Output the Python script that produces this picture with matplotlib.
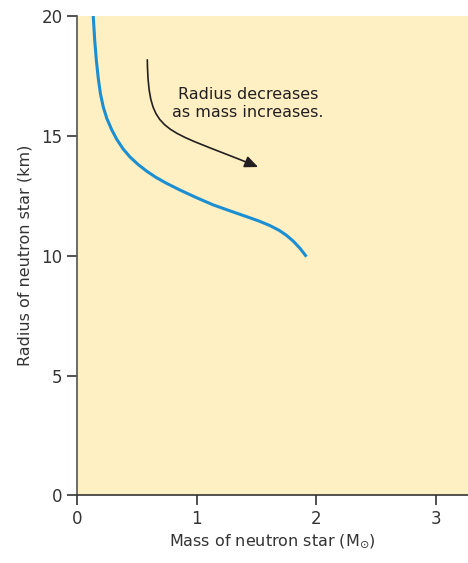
import numpy as np
import matplotlib.pyplot as plt
from matplotlib.path import Path
from matplotlib.patches import FancyArrowPatch

# mass (solar masses) vs radius (km)
mass = [0.136, 0.148, 0.162, 0.178, 0.196, 0.22, 0.25, 0.29, 0.332, 0.385, 0.443,
        0.51, 0.582, 0.66, 0.749, 0.861, 1.0, 1.139, 1.28, 1.418, 1.52, 1.612,
        1.69, 1.752, 1.81, 1.863, 1.919]
radius = [20.0, 19.0, 18.15, 17.4, 16.76, 16.2, 15.72, 15.26, 14.86, 14.46, 14.12,
          13.81, 13.53, 13.27, 13.02, 12.74, 12.42, 12.12, 11.87, 11.63, 11.45, 11.26,
          11.06, 10.85, 10.6, 10.32, 9.96]

xticks = [0, 1, 2, 3]
yticks = [0, 5, 10, 15, 20]

plt.rcParams['font.family'] = ['DejaVu Sans']
plt.rcParams['mathtext.fontset'] = 'dejavusans'

fig = plt.figure(figsize=(4.68, 5.63), dpi=100)
ax = fig.add_axes([0.1645, 0.12, 0.8355, 0.8516])
ax.set_facecolor('#FEF0C3')

ax.plot(mass, radius, color='#1B8FD2', lw=2.2, solid_capstyle='butt', solid_joinstyle='round')

# curved arrow
verts = [(0.588, 18.17), (0.60, 15.0), (0.72, 15.35), (1.515, 13.7)]
codes = [Path.MOVETO, Path.CURVE4, Path.CURVE4, Path.CURVE4]
arr = FancyArrowPatch(path=Path(verts, codes), arrowstyle='-|>,head_length=8,head_width=3.5',
                      color='#231F20', lw=1.2)
ax.add_patch(arr)

ax.text(1.43, 16.35, 'Radius decreases\nas mass increases.', ha='center', va='center',
        fontsize=11.5, color='#231F20', linespacing=1.25)

ax.set_xlim(0, 3.27)
ax.set_ylim(0, 20)
ax.set_xticks(xticks)
ax.set_yticks(yticks)
for s in ['top', 'right']:
    ax.spines[s].set_visible(False)
ax.spines['left'].set_color('#555555')
ax.spines['bottom'].set_color('#333333')
ax.spines['left'].set_linewidth(1.2)
ax.spines['bottom'].set_linewidth(1.2)
ax.tick_params(direction='out', length=7, width=1.2, color='#333333',
               labelsize=12, labelcolor='#333333')
ax.set_xlabel(r'Mass of neutron star (M$_{\odot}$)', fontsize=11.5, color='#333333', labelpad=3)
ax.set_ylabel('Radius of neutron star (km)', fontsize=11.5, color='#333333', labelpad=6)

fig.savefig('out.png', dpi=100)
